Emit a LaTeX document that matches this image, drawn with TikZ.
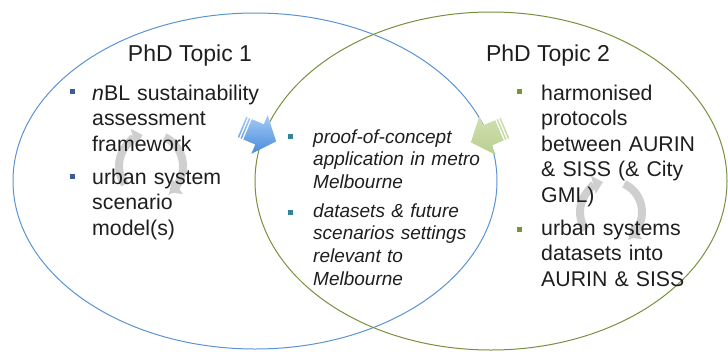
\documentclass[tikz,border=0pt]{standalone}
\usepackage{fontspec}
\setmainfont{Liberation Sans}
\usetikzlibrary{arrows.meta}
\definecolor{ringblue}{RGB}{91,146,211}
\definecolor{ringgreen}{RGB}{119,143,62}
\definecolor{dotblue}{RGB}{60,92,150}
\definecolor{dotteal}{RGB}{49,133,155}
\definecolor{dotgreen}{RGB}{119,147,60}
\definecolor{txt}{RGB}{30,30,30}
\definecolor{arrblueA}{RGB}{165,203,245}
\definecolor{arrblueB}{RGB}{72,138,222}
\definecolor{arrgreenA}{RGB}{208,224,176}
\definecolor{arrgreenB}{RGB}{186,207,143}

\begin{document}
\begin{tikzpicture}[x=1pt, y=-1pt,
  item/.style={anchor=base west, inner sep=0pt, text width=200pt, align=left, text=txt, font=\fontsize{21.3}{25.5}\selectfont},
  mid/.style={item, font=\fontsize{19}{22.7}\selectfont\itshape},
  title/.style={anchor=base, inner sep=0pt, text=txt, font=\fontsize{23}{27}\selectfont},
  bul/.style={fill=#1, minimum size=5pt, inner sep=0pt},
  cycarrow/.style={line width=8pt, gray!38, -{Triangle[length=10pt,width=18pt]}}]
  \useasboundingbox (0,0) rectangle (728,351);

  \draw[ringblue, line width=1pt] (255,181) ellipse [x radius=242, y radius=168];
  \draw[ringgreen, line width=1pt] (491,181) ellipse [x radius=236, y radius=169];

  \begin{scope}[shift={(151,166)}, yscale=-1]
    \draw[cycarrow] (215:32) arc[start angle=215, end angle=105, radius=32];
    \draw[cycarrow] (65:32) arc[start angle=65, end angle=-55, radius=32];
  \end{scope}
  \begin{scope}[shift={(611,212)}, yscale=-1]
    \draw[cycarrow] (215:31) arc[start angle=215, end angle=105, radius=31];
    \draw[cycarrow] (65:31) arc[start angle=65, end angle=-55, radius=31];
  \end{scope}

  \begin{scope}[shift={(242,127)}, rotate=-22.8]
    \shade[top color=arrblueA, bottom color=arrblueB] (0,-11) rectangle (1.5,11) (3,-11) rectangle (4.5,11)
      (6,-11) -- (19,-11) -- (19,-21) -- (37,0) -- (19,21) -- (19,11) -- (6,11) -- cycle;
  \end{scope}
  \begin{scope}[shift={(505,128)}, rotate=202.8]
    \shade[top color=arrgreenA, bottom color=arrgreenB] (0,-11) rectangle (1.5,11) (3,-11) rectangle (4.5,11)
      (6,-11) -- (19,-11) -- (19,-21) -- (37,0) -- (19,21) -- (19,11) -- (6,11) -- cycle;
  \end{scope}

  \node[title] (topic1) at (190,61) {PhD Topic 1};
  \node[title] (topic2) at (548,61) {PhD Topic 2};

  \node[bul=dotblue] (b1) at (72,91) {};
  \node[item] (nbl) at (92,100) {\textit{n}BL sustainability\\assessment\\framework};
  \node[bul=dotblue] (b2) at (72,176) {};
  \node[item] (urban) at (92,184) {urban system\\scenario\\model(s)};

  \node[bul=dotteal] (b3) at (290,136) {};
  \node[mid] (proof) at (313,143) {proof-of-concept\\application in metro\\Melbourne};
  \node[bul=dotteal] (b4) at (290,212) {};
  \node[mid] (data) at (313,217) {datasets \& future\\scenarios settings\\relevant to\\Melbourne};

  \node[bul=dotgreen] (b5) at (519,91) {};
  \node[item] (harm) at (541,100) {harmonised\\protocols\\between AURIN\\\& SISS (\& City\\GML)};
  \node[bul=dotgreen] (b6) at (519,229) {};
  \node[item] (usys) at (541,235) {urban systems\\datasets into\\AURIN \& SISS};
\end{tikzpicture}
\end{document}
